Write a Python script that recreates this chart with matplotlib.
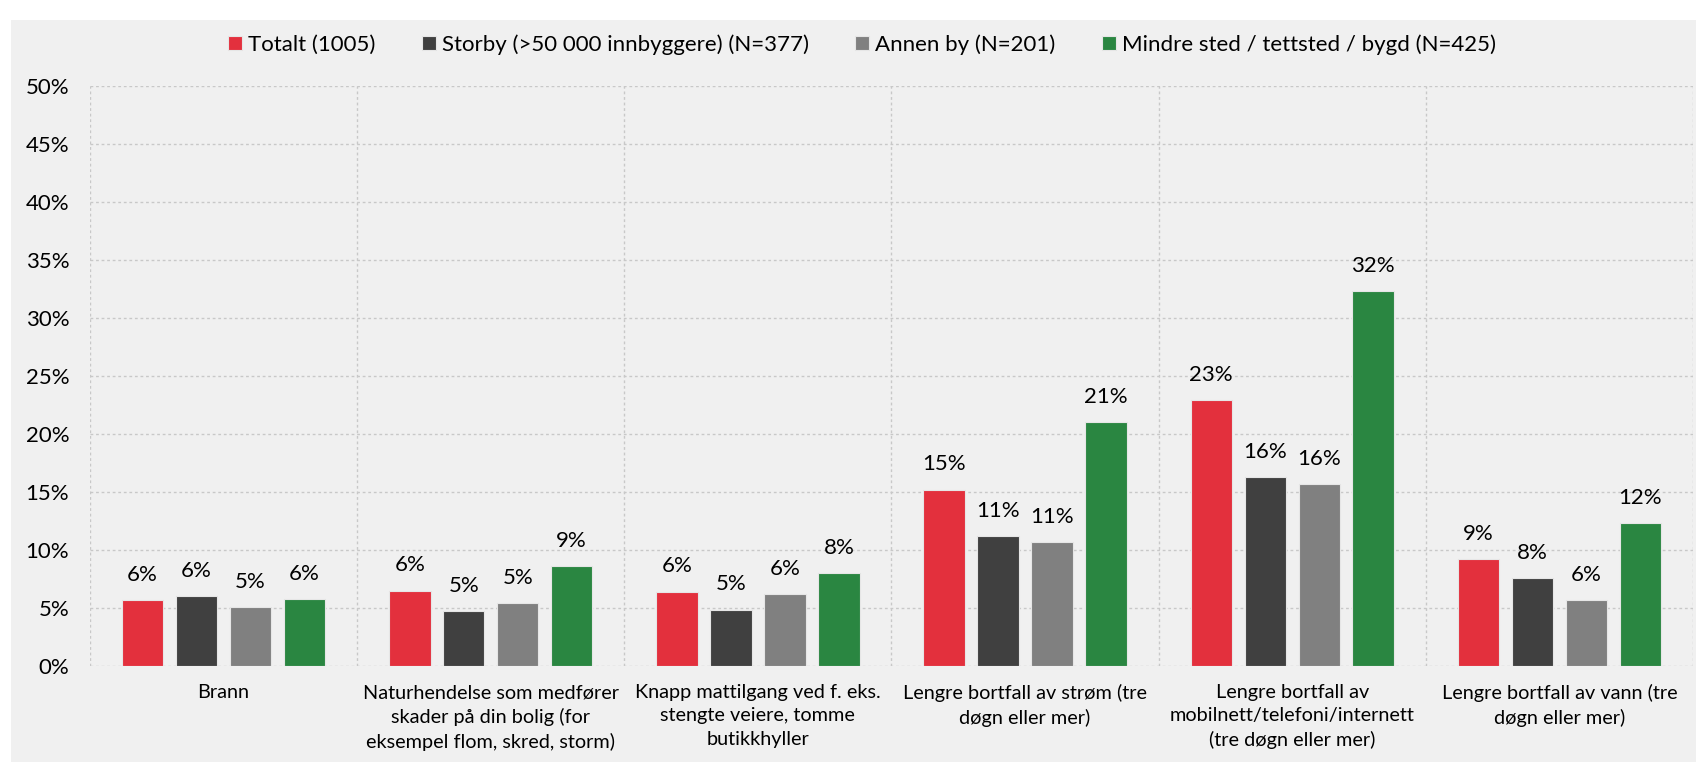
import matplotlib
matplotlib.use("Agg")
import matplotlib.pyplot as plt
import numpy as np
from matplotlib.patches import Rectangle

categories = [
    "Brann",
    "Naturhendelse som medfører\nskader på din bolig (for\neksempel flom, skred, storm)",
    "Knapp mattilgang ved f. eks.\nstengte veiere, tomme\nbutikkhyller",
    "Lengre bortfall av strøm (tre\ndøgn eller mer)",
    "Lengre bortfall av\nmobilnett/telefoni/internett\n(tre døgn eller mer)",
    "Lengre bortfall av vann (tre\ndøgn eller mer)",
]
series_names = [
    "Totalt (1005)",
    "Storby (>50 000 innbyggere) (N=377)",
    "Annen by (N=201)",
    "Mindre sted / tettsted / bygd (N=425)",
]
totalt = [5.7, 6.5, 6.4, 15.2, 22.9, 9.2]
storby = [6.0, 4.7, 4.85, 11.2, 16.3, 7.6]
annen_by = [5.1, 5.4, 6.2, 10.7, 15.7, 5.7]
mindre_sted = [5.75, 8.6, 8.0, 21.0, 32.3, 12.3]
yticks = [0, 5, 10, 15, 20, 25, 30, 35, 40, 45, 50]

colors = ["#E3303D", "#404040", "#808080", "#2A8641"]
series = [totalt, storby, annen_by, mindre_sted]

plt.rcParams['font.family'] = ['Lato', 'DejaVu Sans']
FS = 16
FS_X = 14.3

fig = plt.figure(figsize=(16.96, 7.62), dpi=100)
fig.patch.set_facecolor("white")
# gray panel
fig.patches.append(Rectangle((11/1696, 0), 1 - 11/1696, 1 - 20/762,
                             transform=fig.transFigure, facecolor="#F0F0F0",
                             edgecolor="none", zorder=-10))

ax = fig.add_axes([90/1696, 1 - 666/762, (1693 - 90)/1696, (666 - 86)/762])
ax.set_facecolor("none")

x = np.arange(len(categories))
width = 0.155
step = 0.202
for i, (vals, col, name) in enumerate(zip(series, colors, series_names)):
    bars = ax.bar(x + (i - 1.5) * step, vals, width, color=col, label=name,
                  edgecolor="#e6e6e6", linewidth=0.8, zorder=3)
    ax.bar_label(bars, labels=[f"{round(v)}%" for v in vals], padding=11,
                 fontsize=FS, color="black")

ax.set_xlim(-0.5, len(categories) - 0.5)
ax.set_ylim(0, 50)
ax.set_yticks(yticks)
ax.set_yticklabels([f"{t}%" for t in yticks], fontsize=FS)
ax.set_xticks(x)
ax.set_xticklabels(categories, fontsize=FS_X, linespacing=1.45)
ax.set_xticks(np.arange(-0.5, len(categories)), minor=True)
ax.tick_params(axis='both', which='both', length=0)
ax.tick_params(axis='y', pad=15)
ax.tick_params(axis='x', pad=13)
for s in ax.spines.values():
    s.set_visible(False)
grid_kw = dict(color="#C8C8C8", linewidth=1.0, linestyle=(0, (2, 2)))
ax.grid(axis='y', which='major', **grid_kw)
ax.grid(axis='x', which='minor', **grid_kw)
ax.grid(axis='x', which='major', visible=False)
ax.set_axisbelow(True)

fig.legend(loc='center', bbox_to_anchor=(862/1696, 1 - 45/762), ncol=4,
           frameon=False, fontsize=FS, handlelength=0.63, handleheight=0.59,
           handletextpad=0.27, columnspacing=2.1)

fig.savefig("out.png", dpi=100, facecolor=fig.get_facecolor())
